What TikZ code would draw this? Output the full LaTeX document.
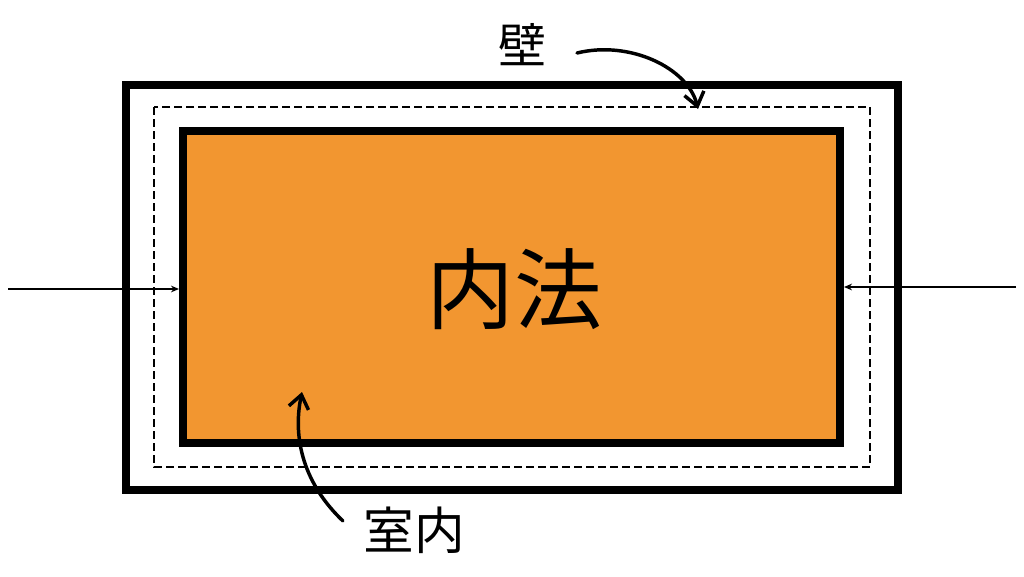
\documentclass[tikz,border=0pt]{standalone}
\usepackage{fontspec}
\newfontfamily\jpfont{Noto Sans CJK JP}
\usetikzlibrary{arrows.meta}
\definecolor{naiorange}{RGB}{242,150,48}
\begin{document}
\begin{tikzpicture}[x=0.75pt,y=-0.75pt,
  wall/.style={line width=6pt},
  dimline/.style={line width=1.3pt,-{Stealth[length=6pt,width=5pt]}},
  pointer/.style={line width=2.6pt,line cap=round,-{Straight Barb[length=10pt,width=15pt,line width=2.6pt]}},
  label/.style={font=\jpfont, inner sep=0pt}]

\useasboundingbox (0,0) rectangle (1024,576);

% walls
\draw[wall] (126,85) rectangle (898,490);
\draw[dashed, line width=0.9pt, dash pattern=on 6pt off 3pt] (154,107) rectangle (870,467);
\node[draw, wall, fill=naiorange, minimum width=657*0.75pt, minimum height=312*0.75pt, inner sep=0pt] (naiho) at (511.5,287) {};

\node[label, font=\jpfont\fontsize{66}{66}\selectfont] (naihoText) at (514,289) {内法};
\node[label, font=\jpfont\fontsize{36}{36}\selectfont] (kabe) at (522,45) {壁};
\node[label, font=\jpfont\fontsize{38}{38}\selectfont] (shitsunai) at (414,530) {室内};

% dimension arrows
\coordinate (leftEnd) at (8,289);
\coordinate (rightEnd) at (1016,287);
\draw[dimline] (leftEnd) -- (naiho.west |- leftEnd);
\draw[dimline] (rightEnd) -- (naiho.east |- rightEnd);

% pointers
\coordinate (kabeTip) at (698,109);
\coordinate (shitsunaiTip) at (302,392);
\draw[pointer] (577,53) .. controls (630,40) and (688,68) .. (kabeTip);
\draw[pointer] (343,521) .. controls (305,485) and (292,440) .. (shitsunaiTip);

\end{tikzpicture}
\end{document}
